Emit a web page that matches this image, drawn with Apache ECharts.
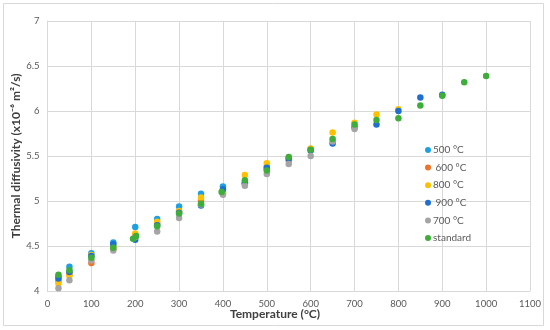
<!DOCTYPE html>
<html><head><meta charset="utf-8">
<script src="https://cdn.jsdelivr.net/npm/echarts@6/dist/echarts.min.js"></script>
<style>html,body{margin:0;padding:0;background:#fff}#c{width:550px;height:330px}</style>
</head><body><div id="c"></div>
<script>
const seriesNames = ['500 °C', ' 600 °C', '800 °C', ' 900 °C', '700 °C', 'standard'];
const colors = ['#1FA0E3', '#F0732A', '#FFC000', '#1F6FD1', '#A5A5A5', '#3DAE3A'];
const t500 = [25, 50, 100, 150, 200, 250, 300, 350, 400, 450, 500];
const v500 = [4.16, 4.27, 4.42, 4.54, 4.71, 4.80, 4.94, 5.08, 5.16, 5.20, 5.38];
const t600 = [25, 50, 100, 150, 200, 250, 300, 350, 400, 450, 500, 550, 600];
const v600 = [4.11, 4.19, 4.31, 4.47, 4.62, 4.75, 4.88, 5.00, 5.09, 5.19, 5.35, 5.45, 5.58];
const t800 = [25, 50, 100, 150, 200, 250, 300, 350, 400, 450, 500, 550, 600, 650, 700, 750, 800];
const v800 = [4.08, 4.17, 4.40, 4.50, 4.64, 4.77, 4.89, 5.04, 5.09, 5.29, 5.42, 5.48, 5.58, 5.76, 5.87, 5.96, 6.02];
const t900 = [25, 50, 100, 150, 200, 250, 300, 350, 400, 450, 500, 550, 600, 650, 700, 750, 800, 850, 900];
const v900 = [4.14, 4.21, 4.39, 4.52, 4.57, 4.73, 4.87, 4.95, 5.13, 5.20, 5.37, 5.47, 5.56, 5.64, 5.82, 5.85, 6.00, 6.15, 6.18];
const t700 = [25, 50, 100, 150, 200, 250, 300, 350, 400, 450, 500, 550, 600, 650, 700];
const v700 = [4.03, 4.12, 4.34, 4.45, 4.60, 4.66, 4.81, 4.96, 5.07, 5.17, 5.30, 5.41, 5.50, 5.66, 5.80];
const tStd = [25, 50, 100, 150, 195, 202, 250, 300, 350, 397, 450, 500, 550, 600, 650, 700, 750, 800, 850, 900, 950, 1000];
const vStd = [4.18, 4.23, 4.37, 4.48, 4.58, 4.61, 4.72, 4.86, 4.97, 5.10, 5.23, 5.34, 5.49, 5.57, 5.69, 5.85, 5.90, 5.92, 6.06, 6.17, 6.32, 6.39];
const xTicks = [0, 100, 200, 300, 400, 500, 600, 700, 800, 900, 1000, 1100];
const yTicks = [4, 4.5, 5, 5.5, 6, 6.5, 7];

const temps = [t500, t600, t800, t900, t700, tStd];
const vals = [v500, v600, v800, v900, v700, vStd];
const font = 'Lato, "Open Sans", sans-serif';

const chart = echarts.init(document.getElementById('c'), null, {renderer: 'canvas'});
chart.setOption({
  animation: false,
  color: colors,
  grid: {left: 47.5, right: 20, top: 21, bottom: 39, containLabel: false},
  xAxis: {
    type: 'value', min: xTicks[0], max: xTicks[xTicks.length - 1], interval: 100,
    axisLine: {show: true, lineStyle: {color: '#d9d9d9'}},
    axisTick: {show: false},
    splitLine: {show: true, lineStyle: {color: '#d9d9d9', width: 1}},
    axisLabel: {color: '#595959', fontSize: 9.5, fontFamily: font, margin: 8, formatter: v => String(v)}
  },
  yAxis: {
    type: 'value', min: yTicks[0], max: yTicks[yTicks.length - 1], interval: 0.5,
    axisLine: {show: true, lineStyle: {color: '#d9d9d9'}},
    axisTick: {show: false},
    splitLine: {show: true, lineStyle: {color: '#d9d9d9', width: 1}},
    axisLabel: {color: '#595959', fontSize: 9.5, fontFamily: font, margin: 8, formatter: v => String(v)}
  },
  legend: {
    orient: 'vertical', left: 420, top: 139,
    itemWidth: 6, itemHeight: 6, itemGap: 5.6, icon: 'circle',
    textStyle: {color: '#595959', fontSize: 10, fontFamily: font, lineHeight: 12, padding: [0, 0, 0, -3]},
    data: seriesNames
  },
  graphic: [
    {type: 'rect', shape: {x: 3.5, y: 3.5, width: 540, height: 322}, style: {fill: 'none', stroke: '#d9d9d9', lineWidth: 1}, silent: true, z: -1},
    {type: 'text', left: 'center', top: 308, style: {text: 'Temperature (°C)', font: 'bold 12px ' + font, fill: '#404040'}},
    {type: 'text', x: 10, y: 156, rotation: Math.PI / 2, style: {text: 'Thermal diffusivity (x10⁻⁶ m²/s)', font: 'bold 12px ' + font, fill: '#404040', align: 'center', verticalAlign: 'top'}}
  ],
  series: seriesNames.map((n, i) => ({
    name: n, type: 'scatter', symbol: 'circle', symbolSize: 6.5,
    itemStyle: {color: colors[i], opacity: 1},
    data: temps[i].map((t, j) => [t, vals[i][j]])
  }))
});
</script></body></html>
